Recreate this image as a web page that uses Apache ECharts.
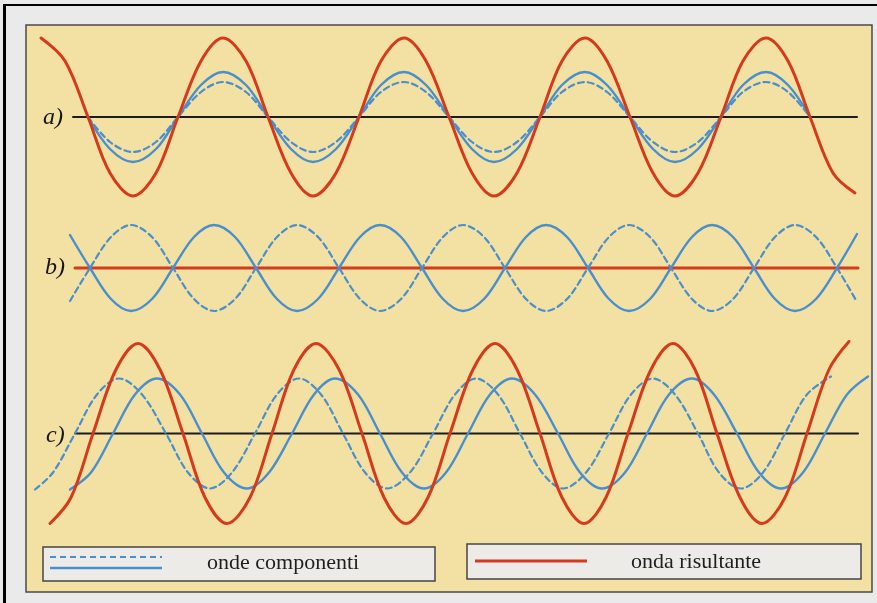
<!DOCTYPE html>
<html><head><meta charset="utf-8">
<script src="https://cdn.jsdelivr.net/npm/echarts@6/dist/echarts.min.js"></script>
<style>html,body{margin:0;padding:0;background:#eaeaea}#c{width:877px;height:603px}</style>
</head><body><div id="c"></div>
<script>
// ---- Panel a) : waves in phase ----
const aX = [41,65,88,110,133,156,178,201,223,246,268,291,313,336,359,381,404,426,449,472,494,517,540,562,585,607,630,653,675,698,721,743,766,788,810,833,855];
const aRed = [79,56,0,-56,-79,-56,0,56, 79,56,0,-56,-79,-56,0,56, 79,56,0,-56,-79,-56,0,56, 79,56,0,-56,-79,-56,0,56, 79,56,0,-56,-76];
const aSolid = [null,null, 0,-32,-45,-32,0,32,45,32, 0,-32,-45,-32,0,32,45,32, 0,-32,-45,-32,0,32,45,32, 0,-32,-45,-32,0,32,45,32, 0, null,null];
const aDashed = [null,null, 0,-25,-35,-25,0,25,35,25, 0,-25,-35,-25,0,25,35,25, 0,-25,-35,-25,0,25,35,25, 0,-25,-35,-25,0,25,35,25, 0, null,null];
const aBaseX = [73, 857];
const aBase = [0, 0];

// ---- Panel b) : waves in opposition ----
const bX = [70,90,111,131,152,173,194,214,235,256,277,297,318,339,360,380,401,422,443,463,484,505,526,546,567,588,609,629,650,671,692,712,733,754,775,795,816,837,857];
const bSolid = [33, 0,-31,-43,-31,0,31,43,31, 0,-31,-43,-31,0,31,43,31, 0,-31,-43,-31,0,31,43,31, 0,-31,-43,-31,0,31,43,31, 0,-31,-43,-31,0,34];
const bDashed = [-33, 0,31,43,31,0,-31,-43,-31, 0,31,43,31,0,-31,-43,-31, 0,31,43,31,0,-31,-43,-31, 0,31,43,31,0,-31,-43,-31, 0,31,43,31,0,-34];
const bRedX = [75, 858];
const bRed = [0, 0];

// ---- Panel c) : waves with a phase difference ----
const cRedX = [50,71,93,116,138,160,183,205,227,250,272,294,316,339,362,384,406,428,450,473,495,517,540,562,584,606,628,651,673,695,717,740,762,785,807,829,849];
const cRed = [-90,-64,0,64,90,64,0,-64, -90,-64,0,64,90,64,0,-64, -90,-64,0,64,90,64,0,-64, -90,-64,0,64,90,64,0,-64, -90,-64,0,64,92];
const cSolidX = [70,91,113,135,157,180,202,224,247,269,292,314,335,358,380,402,424,446,468,490,512,535,558,580,602,625,647,669,692,714,737,759,781,803,825,847,868];
const cSolid = [-56,-39,0,39,55,39,0,-39, -55,-39,0,39,55,39,0,-39, -55,-39,0,39,55,39,0,-39, -55,-39,0,39,55,39,0,-39, -55,-39,0,39,57];
const cDashX = [35,53,75,97,119,142,166,188,210,232,255,277,299,321,343,365,387,410,433,455,476,498,520,542,563,586,609,631,653,675,698,719,741,763,785,807,831];
const cDash = [-56,-39,0,39,55,39,0,-39, -55,-39,0,39,55,39,0,-39, -55,-39,0,39,55,39,0,-39, -55,-39,0,39,55,39,0,-39, -55,-39,0,39,57];
const cBaseX = [75, 858];
const cBase = [0, 0];

const panelLabels = ['a)', 'b)', 'c)'];
const legendLabels = ['onde componenti', 'onda risultante'];

const RED = '#d63a1c', BLUE = '#4a8fcd', BLACK = '#1c1c1c';

function pts(xs, ys) {
  const out = [];
  xs.forEach((x, i) => { if (ys[i] !== null) out.push([x, ys[i]]); });
  return out;
}
function line(g, data, color, width, type, z, smooth) {
  return {
    type: 'line', xAxisIndex: g, yAxisIndex: g, data: data,
    showSymbol: false, symbol: 'none', smooth: smooth ? 0.34 : false,
    lineStyle: { color: color, width: width, type: type || 'solid', cap: 'round' },
    z: z, silent: true, animation: false
  };
}

const grids = [
  { left: 0, right: 0, top: 17, height: 200 },
  { left: 0, right: 0, top: 168, height: 200 },
  { left: 0, right: 0, top: 333.5, height: 200 }
];

const chart = echarts.init(document.getElementById('c'), null, { renderer: 'canvas' });
const serif = '"Liberation Serif", "DejaVu Serif", serif';

chart.setOption({
  backgroundColor: '#eaeaea',
  animation: false,
  grid: grids,
  xAxis: grids.map((g, i) => ({ type: 'value', gridIndex: i, min: 0, max: 877, show: false })),
  yAxis: grids.map((g, i) => ({ type: 'value', gridIndex: i, min: -100, max: 100, show: false })),
  series: [
    line(0, pts(aBaseX, aBase), BLACK, 2, 'solid', 2, false),
    line(0, pts(aX, aDashed), BLUE, 2.2, [6, 4], 3, true),
    line(0, pts(aX, aSolid), BLUE, 2.4, 'solid', 4, true),
    line(0, pts(aX, aRed), RED, 3, 'solid', 5, true),

    line(1, pts(bRedX, bRed), RED, 3, 'solid', 2, false),
    line(1, pts(bX, bDashed), BLUE, 2.2, [6, 4], 3, true),
    line(1, pts(bX, bSolid), BLUE, 2.4, 'solid', 4, true),

    line(2, pts(cBaseX, cBase), BLACK, 2, 'solid', 2, false),
    line(2, pts(cDashX, cDash), BLUE, 2.2, [6, 4], 3, true),
    line(2, pts(cSolidX, cSolid), BLUE, 2.4, 'solid', 4, true),
    line(2, pts(cRedX, cRed), RED, 3, 'solid', 5, true)
  ],
  graphic: [
    { type: 'rect', z: -10, shape: { x: 26, y: 25, width: 846, height: 567 },
      style: { fill: '#f2e1a3', stroke: '#4a4a4a', lineWidth: 1.5 }, silent: true },
    { type: 'rect', z: -5, shape: { x: 4, y: 4, width: 873, height: 2 }, style: { fill: '#000' }, silent: true },
    { type: 'rect', z: -5, shape: { x: 3, y: 4, width: 3, height: 599 }, style: { fill: '#000' }, silent: true },

    // legend box 1
    { type: 'rect', z: 10, shape: { x: 43, y: 547, width: 392, height: 34 },
      style: { fill: '#ecebe8', stroke: '#454545', lineWidth: 1.5 }, silent: true },
    { type: 'line', z: 11, shape: { x1: 50, y1: 557, x2: 162, y2: 557 },
      style: { stroke: BLUE, lineWidth: 2.2, lineDash: [6, 4] }, silent: true },
    { type: 'line', z: 11, shape: { x1: 50, y1: 568, x2: 162, y2: 568 },
      style: { stroke: BLUE, lineWidth: 2.4 }, silent: true },
    { type: 'text', z: 11, x: 207, y: 563,
      style: { text: legendLabels[0], font: '22px ' + serif, fill: '#1e1e1e', textVerticalAlign: 'middle' }, silent: true },

    // legend box 2
    { type: 'rect', z: 10, shape: { x: 467, y: 544, width: 394, height: 35 },
      style: { fill: '#ecebe8', stroke: '#454545', lineWidth: 1.5 }, silent: true },
    { type: 'line', z: 11, shape: { x1: 475, y1: 561, x2: 587, y2: 561 },
      style: { stroke: RED, lineWidth: 3 }, silent: true },
    { type: 'text', z: 11, x: 631, y: 562,
      style: { text: legendLabels[1], font: '22px ' + serif, fill: '#1e1e1e', textVerticalAlign: 'middle' }, silent: true },

    // panel labels
    { type: 'text', z: 11, x: 43, y: 118,
      style: { text: panelLabels[0], font: 'italic 24px ' + serif, fill: '#151515', textVerticalAlign: 'middle' }, silent: true },
    { type: 'text', z: 11, x: 45, y: 268,
      style: { text: panelLabels[1], font: 'italic 24px ' + serif, fill: '#151515', textVerticalAlign: 'middle' }, silent: true },
    { type: 'text', z: 11, x: 46, y: 436,
      style: { text: panelLabels[2], font: 'italic 24px ' + serif, fill: '#151515', textVerticalAlign: 'middle' }, silent: true }
  ]
});
</script>
</body></html>
